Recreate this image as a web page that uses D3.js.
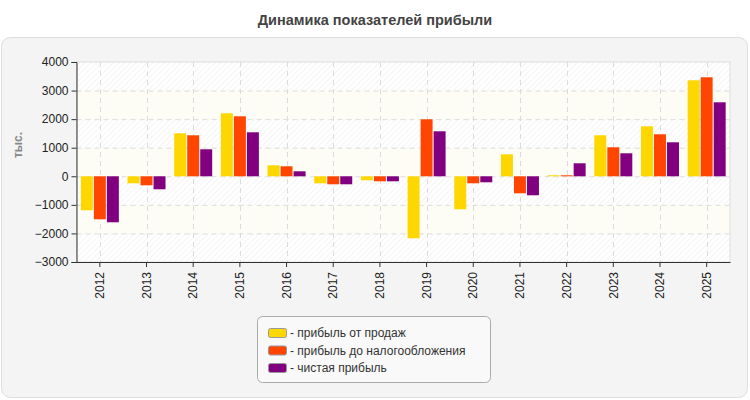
<!DOCTYPE html>
<html><head><meta charset="utf-8">
<script src="https://cdn.jsdelivr.net/npm/d3@7"></script>
<style>body{margin:0;background:#fff;}svg{display:block;font-family:"Liberation Sans",Arial,sans-serif;}</style>
</head><body><svg id="c" width="750" height="400"></svg>
<script>
const years = ["2012","2013","2014","2015","2016","2017","2018","2019","2020","2021","2022","2023","2024","2025"];
const salesProfit = [-1190,-245,1505,2205,385,-245,-140,-2170,-1155,770,35,1435,1750,3360];
const pretaxProfit = [-1505,-315,1435,2100,350,-280,-175,1995,-245,-595,35,1015,1470,3465];
const netProfit = [-1610,-455,945,1540,175,-280,-175,1575,-210,-665,455,805,1190,2590];
const seriesNames = ["прибыль от продаж","прибыль до налогообложения","чистая прибыль"];
const seriesColors = ["#ffd700","#ff4500","#800080"];
const yTicks = [-3000,-2000,-1000,0,1000,2000,3000,4000];
const title = "Динамика показателей прибыли";
const yLabel = "тыс.";

const svg = d3.select("#c");
const defs = svg.append("defs");
const pat = defs.append("pattern").attr("id","hatch").attr("patternUnits","userSpaceOnUse")
  .attr("width",4).attr("height",4).attr("patternTransform","rotate(45)");
pat.append("rect").attr("width",4).attr("height",4).attr("fill","#ffffff");
pat.append("line").attr("x1",0).attr("y1",0).attr("x2",0).attr("y2",4).attr("stroke","#ededed").attr("stroke-width",1.2);

// panel
svg.append("rect").attr("x",1.5).attr("y",37.5).attr("width",746).attr("height",360).attr("rx",9)
  .attr("fill","#f4f4f4").attr("stroke","#dddddd");
svg.append("text").attr("x",375).attr("y",25).attr("text-anchor","middle")
  .attr("font-size",14.5).attr("font-weight","bold").attr("fill","#444").text(title);

const m = {l:76.5, r:730, t:62, b:262};
const x = d3.scaleBand().domain(years).range([m.l,m.r]).padding(0);
const y = d3.scaleLinear().domain([-3000,4000]).range([m.b,m.t]);

// bands
const g = svg.append("g");
for (let i=0;i<yTicks.length-1;i++){
  const v0=yTicks[i], v1=yTicks[i+1];
  g.append("rect").attr("x",m.l).attr("y",y(v1)).attr("width",m.r-m.l).attr("height",y(v0)-y(v1))
    .attr("fill", (i%2===0)?"url(#hatch)":"#fdfdf6");
}
svg.append("rect").attr("x",m.l).attr("y",m.t).attr("width",m.r-m.l).attr("height",m.b-m.t)
  .attr("fill","none").attr("stroke","#dddddd");
// grid
svg.append("g").selectAll("line").data(yTicks.filter(v=>v>-3000&&v<4000)).join("line")
  .attr("x1",m.l).attr("x2",m.r).attr("y1",d=>y(d)+0.5).attr("y2",d=>y(d)+0.5)
  .attr("stroke","#dcdcdc").attr("stroke-dasharray","5,4");
svg.append("g").selectAll("line").data(years).join("line")
  .attr("x1",d=>Math.round(x(d)+x.bandwidth()/2)+0.5).attr("x2",d=>Math.round(x(d)+x.bandwidth()/2)+0.5)
  .attr("y1",m.t).attr("y2",m.b)
  .attr("stroke","#dcdcdc").attr("stroke-dasharray","5,4");

// bars
const series=[salesProfit,pretaxProfit,netProfit];
const x1 = d3.scaleBand().domain([0,1,2]).range([0,38]).paddingInner(0.08);
const off = (x.bandwidth()-38)/2;
series.forEach((arr,si)=>{
  svg.append("g").selectAll("rect").data(arr).join("rect")
    .attr("x",(d,i)=>x(years[i])+off+x1(si))
    .attr("width",x1.bandwidth())
    .attr("y",d=>d>=0?y(d):y(0))
    .attr("height",d=>Math.abs(y(d)-y(0)))
    .attr("fill",seriesColors[si]);
});

// axes
const ya = svg.append("g").attr("transform",`translate(${m.l},0)`)
  .call(d3.axisLeft(y).tickValues(yTicks).tickSize(5).tickPadding(3).tickFormat(d3.format("d")));
ya.selectAll("text").attr("font-size",12).attr("fill","#222").attr("font-family","Liberation Sans, Arial, sans-serif");
ya.selectAll("line,path").attr("stroke","#333");
const xa = svg.append("g").attr("transform",`translate(0,${m.b})`)
  .call(d3.axisBottom(x).tickSize(5).tickSizeOuter(0));
xa.selectAll("line,path").attr("stroke","#333");
xa.selectAll("text").attr("font-size",12).attr("fill","#222").attr("font-family","Liberation Sans, Arial, sans-serif")
  .attr("transform","rotate(-90)").attr("text-anchor","end").attr("x",-10).attr("y",0).attr("dy","0.35em");

svg.append("text").attr("transform","translate(22,145) rotate(-90)").attr("text-anchor","middle")
  .attr("font-size",12).attr("font-weight","bold").attr("fill","#888").text(yLabel);

// legend
svg.append("rect").attr("x",257.5).attr("y",316.5).attr("width",233).attr("height",66).attr("rx",5)
  .attr("fill","#f9f9f9").attr("stroke","#aaaaaa");
const lg = svg.append("g").selectAll("g").data(seriesNames).join("g")
  .attr("transform",(d,i)=>`translate(268,${333+i*17.5})`);
lg.append("rect").attr("x",0.5).attr("y",-4.5).attr("width",18).attr("height",9).attr("rx",2)
  .attr("fill",(d,i)=>seriesColors[i]).attr("stroke","#999");
lg.append("text").attr("x",22).attr("y",0).attr("dy","0.35em").attr("font-size",12).attr("fill","#333")
  .text(d=>"- "+d);
</script></body></html>
